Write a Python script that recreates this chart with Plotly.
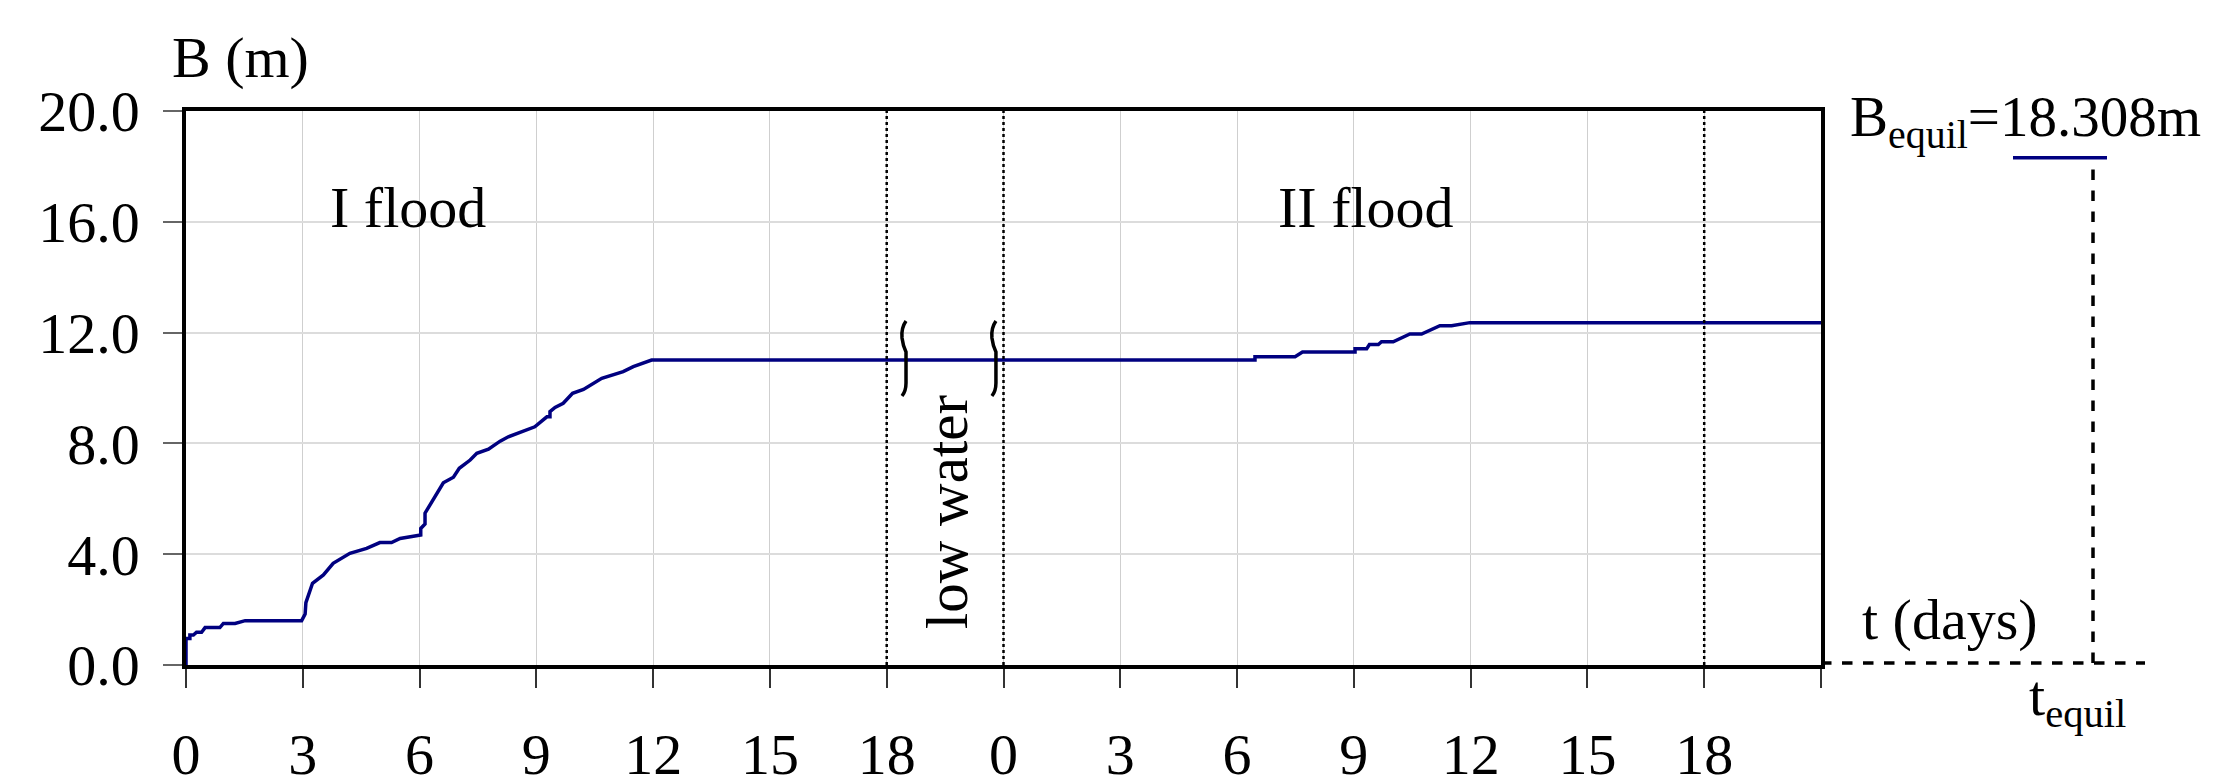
import plotly.graph_objects as go

# ---------------- data ----------------
t_days = [0, 0, 0.10, 0.10, 0.19, 0.27, 0.40, 0.49, 0.87, 0.96, 1.26, 1.52, 2.97,
          3.06, 3.08, 3.17, 3.25, 3.53, 3.78, 4.21, 4.64, 4.98, 5.28, 5.50, 6.03,
          6.03, 6.14, 6.14, 6.44, 6.61, 6.87, 7.02, 7.30, 7.47, 7.77, 8.07, 8.28,
          8.58, 8.96, 9.27, 9.35, 9.35, 9.48, 9.69, 9.93, 10.21, 10.68, 11.23,
          11.49, 11.96,
          27.46, 27.46, 28.49, 28.68, 30.03, 30.03, 30.33, 30.40, 30.63, 30.71,
          31.01, 31.44, 31.74, 32.21, 32.51, 32.98, 42.0]
B_m = [0, 0.96, 0.96, 1.08, 1.08, 1.18, 1.18, 1.35, 1.35, 1.50, 1.50, 1.60, 1.60,
       1.84, 2.25, 2.59, 2.95, 3.25, 3.67, 4.03, 4.21, 4.42, 4.42, 4.57, 4.69,
       4.93, 5.09, 5.48, 6.20, 6.58, 6.78, 7.10, 7.40, 7.64, 7.79, 8.08, 8.24,
       8.39, 8.60, 8.96, 8.96, 9.15, 9.30, 9.45, 9.81, 9.95, 10.35, 10.59,
       10.77, 11.01,
       11.01, 11.13, 11.13, 11.30, 11.30, 11.42, 11.42, 11.57, 11.57, 11.67,
       11.67, 11.95, 11.95, 12.25, 12.25, 12.36, 12.36]

x_tickvals = [0, 3, 6, 9, 12, 15, 18, 21, 24, 27, 30, 33, 36, 39, 42]
x_ticktext = ["0", "3", "6", "9", "12", "15", "18", "0", "3", "6", "9", "12", "15", "18", " "]
y_tickvals = [0, 4, 8, 12, 16, 20]
period_bounds = [18, 21, 39]
brace_t = [18.47, 20.78]
B_equil = 18.308

X_RANGE = [0, 42]
Y_RANGE = [0, 20]

# ---------------- layout geometry ----------------
W, H = 2238, 776
ML, MR, MT, MB = 186, 417, 111, 111
PW = W - ML - MR
PH = H - MT - MB
px_t = (X_RANGE[1] - X_RANGE[0]) / PW   # data units per pixel
px_b = (Y_RANGE[1] - Y_RANGE[0]) / PH

FONT = "Liberation Serif, Times New Roman, serif"
NAVY = "#000080"

fig = go.Figure()
fig.add_trace(go.Scatter(x=t_days, y=B_m, mode="lines",
                         line=dict(color=NAVY, width=3.5), showlegend=False,
                         hoverinfo="skip"))

shapes = []
# period boundaries (dotted)
for tb in period_bounds:
    shapes.append(dict(type="line", xref="x", yref="y", x0=tb, x1=tb,
                       y0=Y_RANGE[0], y1=Y_RANGE[1],
                       line=dict(color="black", width=2.5, dash="dot")))


# break marks (wavy braces) built from pixel offsets around the brace position
def brace_path(tc):
    def P(dx, py):
        return f"{tc + dx * px_t:.4f},{(H - MB - py) * px_b:.4f}"
    return (f"M {P(1, 321)} Q {P(-4, 328)} {P(-3, 338)} "
            f"Q {P(-2, 346)} {P(1, 352)} L {P(1, 383)} "
            f"Q {P(1, 391)} {P(-3, 396)}")


for tc in brace_t:
    shapes.append(dict(type="path", xref="x", yref="y", path=brace_path(tc),
                       line=dict(color="black", width=3.5)))

# right-hand equilibrium sketch
x_td_end = (2145 - ML) / PW
x_eq = (2093 - ML) / PW
shapes.append(dict(type="line", xref="paper", yref="y", x0=1.0, x1=x_td_end,
                   y0=0.07, y1=0.07, line=dict(color="black", width=3.5, dash="dash")))
shapes.append(dict(type="line", xref="paper", yref="y", x0=x_eq, x1=x_eq,
                   y0=0.07, y1=B_equil, line=dict(color="black", width=3.5, dash="dash")))
shapes.append(dict(type="line", xref="paper", yref="y", x0=(2013 - ML) / PW,
                   x1=(2107 - ML) / PW, y0=B_equil, y1=B_equil,
                   line=dict(color=NAVY, width=3.5)))

ann = []
def A(text, x, y, xref, yref, size, xanchor="center", yanchor="middle", angle=0):
    ann.append(dict(text=text, x=x, y=y, xref=xref, yref=yref, showarrow=False,
                    xanchor=xanchor, yanchor=yanchor, textangle=angle,
                    font=dict(family=FONT, size=size, color="black")))

A("B (m)", (240 - ML) / PW, (H - MB - 58) / PH, "paper", "paper", 58)
A("I flood", 5.69, 16.5, "x", "y", 58)
A("II flood", 30.3, 16.5, "x", "y", 58)
A("low water", 19.55, 5.52, "x", "y", 59, angle=-90)
A("B<sub>equil</sub>=18.308m", (1848 - ML) / PW, (H - MB - 121) / PH, "paper", "paper", 57,
  xanchor="left")
A("t (days)", (1860 - ML) / PW, (H - MB - 619) / PH, "paper", "paper", 58, xanchor="left")
A("t<sub>equil</sub>", (2027 - ML) / PW, (H - MB - 699) / PH, "paper", "paper", 58,
  xanchor="left")

fig.update_layout(
    width=W, height=H,
    margin=dict(l=ML, r=MR, t=MT, b=MB, pad=0, autoexpand=False),
    paper_bgcolor="white", plot_bgcolor="white",
    font=dict(family=FONT, size=58, color="black"),
    shapes=shapes, annotations=ann,
    xaxis=dict(range=X_RANGE, tickmode="array", tickvals=x_tickvals, ticktext=x_ticktext,
               automargin=False,
               showgrid=True, gridcolor="#cfcfcf", gridwidth=1,
               showline=True, linecolor="black", linewidth=3.5, mirror=True,
               ticks="outside", ticklen=19, tickwidth=1.5, tickcolor="#333333",
               ticklabelstandoff=17, zeroline=False,
               tickfont=dict(family=FONT, size=58, color="black")),
    yaxis=dict(range=Y_RANGE, tickmode="array", tickvals=y_tickvals,
               tickformat=".1f", automargin=False,
               showgrid=True, gridcolor="#dcdcdc", gridwidth=2,
               showline=True, linecolor="black", linewidth=3.5, mirror=True,
               ticks="outside", ticklen=19, tickwidth=1.5, tickcolor="#666666",
               ticklabelstandoff=12, zeroline=False,
               tickfont=dict(family=FONT, size=58, color="black")),
)

fig.write_html("out.html")
